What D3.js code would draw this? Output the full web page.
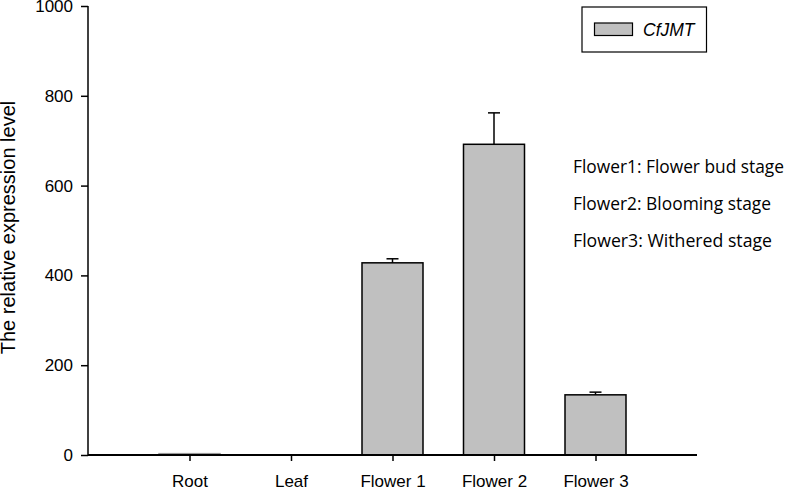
<!DOCTYPE html>
<html><head><meta charset="utf-8">
<script src="https://cdn.jsdelivr.net/npm/d3@7"></script>
<style>body{margin:0;background:#fff}svg{display:block}</style>
</head><body>
<svg id="c" width="787" height="488"></svg>
<script>
const categories = ["Root", "Leaf", "Flower 1", "Flower 2", "Flower 3"];
const values = [3, 0.5, 428, 692, 134];
const errors = [0, 0, 9, 70, 6];
const yTicks = [0, 200, 400, 600, 800, 1000];
const seriesName = "CfJMT";
const notes = ["Flower1: Flower bud stage", "Flower2: Blooming stage", "Flower3: Withered stage"];

const svg = d3.select("#c");
const x = d3.scaleLinear().domain([0, categories.length + 1]).range([88, 697]);
const y = d3.scaleLinear().domain([0, 1000]).range([455, 6]);
const bw = 61;
const font = "Liberation Sans, Arial, sans-serif";

// bars
svg.selectAll("rect.bar").data(values).enter().append("rect")
  .attr("x", (d, i) => x(i + 1) - bw / 2)
  .attr("y", d => y(d))
  .attr("width", bw)
  .attr("height", d => y(0) - y(d))
  .attr("fill", "#c0c0c0")
  .attr("stroke", (d) => d > 5 ? "#000" : "#999")
  .attr("stroke-width", 1.5);

// error bars
const eb = svg.selectAll("g.err").data(values.map((v, i) => ({v, e: errors[i], i})).filter(d => d.e > 0))
  .enter().append("g");
eb.append("line").attr("x1", d => x(d.i + 1)).attr("x2", d => x(d.i + 1))
  .attr("y1", d => y(d.v)).attr("y2", d => y(d.v + d.e)).attr("stroke", "#000").attr("stroke-width", 1.5);
eb.append("line").attr("x1", d => x(d.i + 1) - 6).attr("x2", d => x(d.i + 1) + 6)
  .attr("y1", d => y(d.v + d.e)).attr("y2", d => y(d.v + d.e)).attr("stroke", "#000").attr("stroke-width", 1.5);

// y axis
const yAxis = d3.axisLeft(y).tickValues(yTicks).tickSize(7).tickPadding(8).tickFormat(d3.format("d"));
const gy = svg.append("g").attr("transform", "translate(88,0)").call(yAxis);
gy.select(".domain").attr("stroke-width", 1.5).attr("d", "M0,6V455");
gy.selectAll(".tick line").attr("stroke-width", 1.5);
gy.selectAll("text").attr("font-family", font).attr("font-size", 17).attr("fill", "#000");

// x axis
const xAxis = d3.axisBottom(x).tickValues(categories.map((c, i) => i + 1))
  .tickFormat((d) => categories[d - 1]).tickSize(6).tickPadding(14);
const gx = svg.append("g").attr("transform", "translate(0,455)").call(xAxis);
gx.select(".domain").attr("stroke-width", 2.2).attr("d", "M88,0H697");
gx.selectAll(".tick line").attr("stroke-width", 1.5);
gx.selectAll("text").attr("font-family", font).attr("font-size", 17).attr("fill", "#000");

// y label
svg.append("text").attr("transform", "translate(15,227.5) rotate(-90)")
  .attr("text-anchor", "middle").attr("font-family", font)
  .attr("font-size", 20).text("The relative expression level");

// legend
svg.append("rect").attr("x", 582).attr("y", 7).attr("width", 124.5).attr("height", 45)
  .attr("fill", "#fff").attr("stroke", "#000").attr("stroke-width", 1.2);
svg.append("rect").attr("x", 594.5).attr("y", 23).attr("width", 38).attr("height", 12.5)
  .attr("fill", "#c0c0c0").attr("stroke", "#000").attr("stroke-width", 1.2);
svg.append("text").attr("x", 643).attr("y", 35.5).attr("font-family", font)
  .attr("font-style", "italic").attr("font-size", 17.5).text(seriesName);

// notes
svg.selectAll("text.note").data(notes).enter().append("text")
  .attr("x", 573).attr("y", (d, i) => 173.3 + i * 36.7)
  .attr("font-family", "Open Sans, sans-serif").attr("font-size", 18)
  .attr("textLength", (d, i) => [211, 198, 199][i]).attr("lengthAdjust", "spacingAndGlyphs")
  .text(d => d);
</script>
</body></html>
